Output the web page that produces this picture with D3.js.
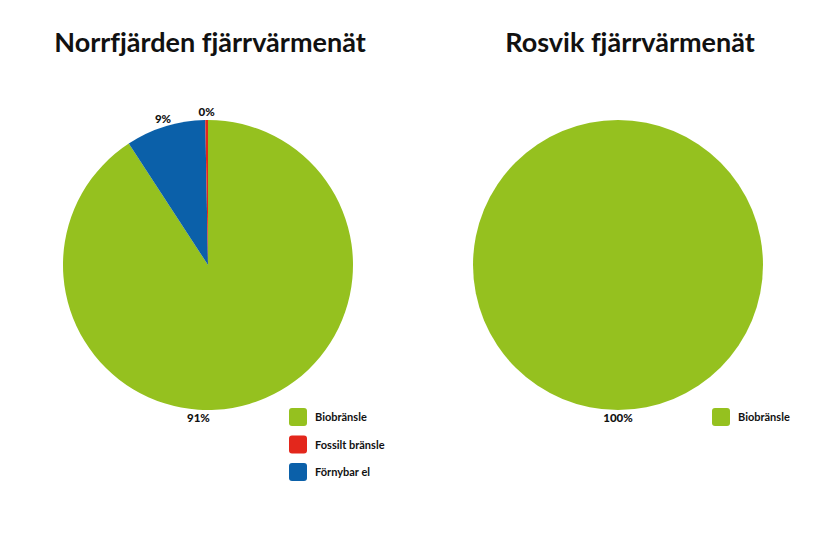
<!doctype html>
<html lang="sv">
<head>
    <meta charset="utf-8">
    <title></title>
    <script src="https://d3js.org/d3.v7.min.js"></script>
    <style type="text/css">
        body { margin: 0; background: #fff; }
        text { font-family: Lato, "Open Sans", sans-serif; fill: #111; font-variant-ligatures: none; }
    </style>
</head>

<body>
</body>

<script type="text/javascript">

    var width  = 840;
    var height = 560;

    // data
    var titles = ["Norrfjärden fjärrvärmenät", "Rosvik fjärrvärmenät"];
    var norrCategories = ["Biobränsle", "Förnybar el", "Fossilt bränsle"];
    var norrValues = [90.8, 8.9, 0.3];
    var norrLabels = ["91%", "9%", "0%"];
    var norrLegend = ["Biobränsle", "Fossilt bränsle", "Förnybar el"];
    var rosCategories = ["Biobränsle"];
    var rosValues = [100];
    var rosLabels = ["100%"];
    var rosLegend = ["Biobränsle"];

    var color = d3.scaleOrdinal()
        .domain(["Biobränsle", "Fossilt bränsle", "Förnybar el"])
        .range(["#95c11f", "#e3271c", "#0b60a9"]);

    var svg = d3.select("body")
        .append("svg")
        .attr("width", width)
        .attr("height", height);

    var radius = 145;
    var pie = d3.pie().sort(null).value(d => d.value);
    var arc = d3.arc().innerRadius(0).outerRadius(radius);

    function drawPanel(idx, cx, title, cats, vals, labels, legend, legendX, legendY) {
        var g = svg.append("g").attr("transform", "translate(" + cx + ",265)");

        svg.append("text")
            .attr("x", width / 4 + idx * width / 2)
            .attr("y", 52)
            .attr("text-anchor", "middle")
            .style("font-size", "27px")
            .style("font-weight", "bold")
            .text(title);

        var data = cats.map((c, i) => ({cat: c, value: vals[i], label: labels[i]}));
        var arcs = pie(data);

        g.selectAll("path")
            .data(arcs)
            .enter()
            .append("path")
            .attr("d", arc)
            .style("fill", d => color(d.data.cat));

        // labels just outside the rim; the dominant slice gets its label near the bottom
        g.selectAll(".lbl")
            .data(arcs)
            .enter()
            .append("text")
            .attr("class", "lbl")
            .attr("text-anchor", "middle")
            .attr("dy", "0.35em")
            .style("font-size", "11.5px")
            .style("font-weight", "900")
            .each(function(d) {
                var span = d.endAngle - d.startAngle;
                var a = (d.startAngle + d.endAngle) / 2;
                if (span > Math.PI) a = span >= 2 * Math.PI - 1e-6 ? Math.PI : Math.PI * 1.02;
                var r = radius + 8;
                d3.select(this)
                    .attr("x", Math.sin(a) * r)
                    .attr("y", -Math.cos(a) * r);
            })
            .text(d => d.data.label);

        var leg = svg.append("g")
            .selectAll("g")
            .data(legend)
            .enter()
            .append("g")
            .attr("transform", (d, i) => "translate(" + legendX + "," + (legendY + i * 27.5) + ")");

        leg.append("rect")
            .attr("width", 18)
            .attr("height", 18)
            .attr("rx", 3)
            .style("fill", d => color(d));

        leg.append("text")
            .attr("x", 26)
            .attr("y", 13)
            .style("font-size", "11px")
            .style("font-weight", "bold")
            .text(d => d);
    }

    drawPanel(0, 208, titles[0], norrCategories, norrValues, norrLabels, norrLegend, 289, 408);
    drawPanel(1, 618, titles[1], rosCategories, rosValues, rosLabels, rosLegend, 712, 408);

</script>

</html>
